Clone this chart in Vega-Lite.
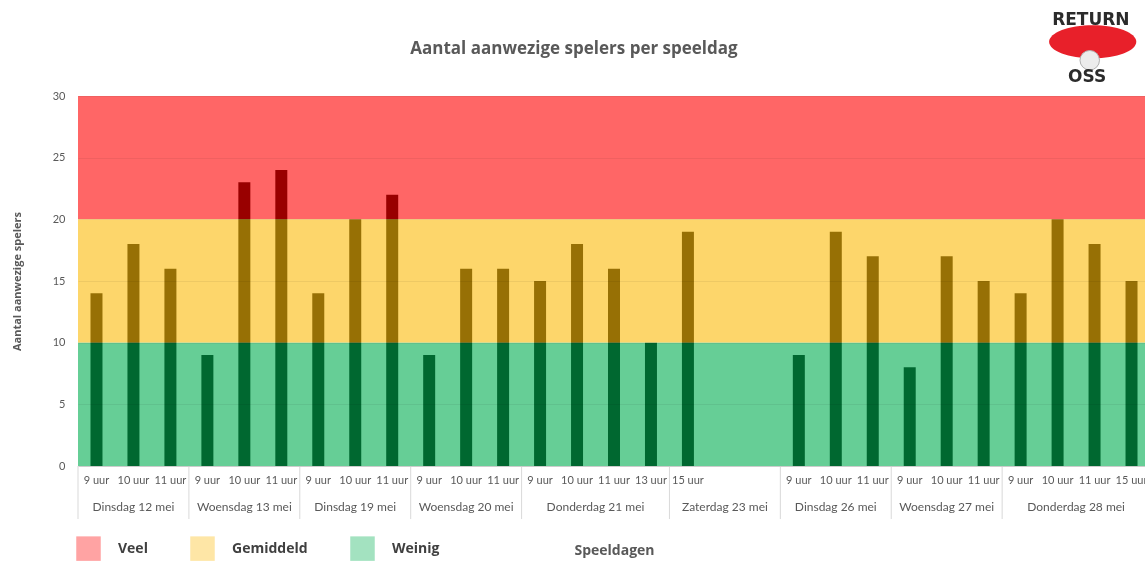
{
  "$schema": "https://vega.github.io/schema/vega-lite/v6.json",
  "width": 1072,
  "height": 370,
  "autosize": {"type": "none"},
  "padding": {"left": 78, "top": 96, "right": 0, "bottom": 95},
  "background": "white",
  "title": {
    "text": "Aantal aanwezige spelers per speeldag",
    "fontSize": 17,
    "fontWeight": "bold",
    "color": "#595959",
    "font": "Open Sans",
    "anchor": "middle",
    "dx": -40,
    "offset": -47
  },
  "config": {"view": {"stroke": null}, "font": "Lato"},
  "datasets": {
    "banden": [
      {"categorie": "Veel", "van": 20, "tot": 30},
      {"categorie": "Gemiddeld", "van": 10, "tot": 20},
      {"categorie": "Weinig", "van": 0, "tot": 10}
    ],
    "logo": [
      {"tekst": "RETURN", "x": 26.9, "y": 36.2},
      {"tekst": "OSS", "x": 26.8, "y": 31.55}
    ],
    "spelers": [
      {"idx": 0, "dag": "Dinsdag 12 mei", "tijd": "9 uur", "spelers": 14},
      {"idx": 1, "dag": "Dinsdag 12 mei", "tijd": "10 uur", "spelers": 18},
      {"idx": 2, "dag": "Dinsdag 12 mei", "tijd": "11 uur", "spelers": 16},
      {"idx": 3, "dag": "Woensdag 13 mei", "tijd": "9 uur", "spelers": 9},
      {"idx": 4, "dag": "Woensdag 13 mei", "tijd": "10 uur", "spelers": 23},
      {"idx": 5, "dag": "Woensdag 13 mei", "tijd": "11 uur", "spelers": 24},
      {"idx": 6, "dag": "Dinsdag 19 mei", "tijd": "9 uur", "spelers": 14},
      {"idx": 7, "dag": "Dinsdag 19 mei", "tijd": "10 uur", "spelers": 20},
      {"idx": 8, "dag": "Dinsdag 19 mei", "tijd": "11 uur", "spelers": 22},
      {"idx": 9, "dag": "Woensdag 20 mei", "tijd": "9 uur", "spelers": 9},
      {"idx": 10, "dag": "Woensdag 20 mei", "tijd": "10 uur", "spelers": 16},
      {"idx": 11, "dag": "Woensdag 20 mei", "tijd": "11 uur", "spelers": 16},
      {"idx": 12, "dag": "Donderdag 21 mei", "tijd": "9 uur", "spelers": 15},
      {"idx": 13, "dag": "Donderdag 21 mei", "tijd": "10 uur", "spelers": 18},
      {"idx": 14, "dag": "Donderdag 21 mei", "tijd": "11 uur", "spelers": 16},
      {"idx": 15, "dag": "Donderdag 21 mei", "tijd": "13 uur", "spelers": 10},
      {"idx": 16, "dag": "Zaterdag 23 mei", "tijd": "15 uur", "spelers": 19},
      {"idx": 17, "dag": "Zaterdag 23 mei", "tijd": "", "spelers": null},
      {"idx": 18, "dag": "Zaterdag 23 mei", "tijd": "", "spelers": null},
      {"idx": 19, "dag": "Dinsdag 26 mei", "tijd": "9 uur", "spelers": 9},
      {"idx": 20, "dag": "Dinsdag 26 mei", "tijd": "10 uur", "spelers": 19},
      {"idx": 21, "dag": "Dinsdag 26 mei", "tijd": "11 uur", "spelers": 17},
      {"idx": 22, "dag": "Woensdag 27 mei", "tijd": "9 uur", "spelers": 8},
      {"idx": 23, "dag": "Woensdag 27 mei", "tijd": "10 uur", "spelers": 17},
      {"idx": 24, "dag": "Woensdag 27 mei", "tijd": "11 uur", "spelers": 15},
      {"idx": 25, "dag": "Donderdag 28 mei", "tijd": "9 uur", "spelers": 14},
      {"idx": 26, "dag": "Donderdag 28 mei", "tijd": "10 uur", "spelers": 20},
      {"idx": 27, "dag": "Donderdag 28 mei", "tijd": "11 uur", "spelers": 18},
      {"idx": 28, "dag": "Donderdag 28 mei", "tijd": "15 uur", "spelers": 15}
    ]
  },
  "layer": [
    {
      "data": {"name": "banden"},
      "mark": {"type": "rect"},
      "encoding": {
        "x": {"datum": -0.5, "type": "quantitative"},
        "x2": {"datum": 28.5},
        "y": {
          "field": "van",
          "type": "quantitative",
          "scale": {"domain": [0, 30], "nice": false, "padding": 0},
          "axis": {
            "title": "Aantal aanwezige spelers",
            "titleFont": "Open Sans",
            "titleFontSize": 11,
            "titleFontWeight": "bold",
            "titleColor": "#595959",
            "titlePadding": 30,
            "labelFontSize": 11,
            "labelColor": "#595959",
            "labelPadding": 13,
            "ticks": false,
            "domain": false,
            "grid": true,
            "gridColor": "#000000",
            "gridOpacity": 0.06,
            "values": [0, 5, 10, 15, 20, 25, 30],
            "zindex": 1
          }
        },
        "y2": {"field": "tot"},
        "color": {
          "field": "categorie",
          "type": "nominal",
          "scale": {
            "domain": ["Veel", "Gemiddeld", "Weinig"],
            "range": ["#FF6666", "#FDD66B", "#66CE96"]
          },
          "legend": {
            "title": null,
            "orient": "none",
            "direction": "horizontal",
            "legendX": -2,
            "legendY": 440,
            "symbolType": "square",
            "symbolSize": 600,
            "symbolOpacity": 0.6,
            "symbolStrokeWidth": 0,
            "labelFont": "Open Sans",
            "labelFontSize": 14,
            "labelFontWeight": "bold",
            "labelColor": "#404040",
            "labelOffset": 17,
            "columnPadding": 42
          }
        }
      }
    },
    {
      "data": {"name": "spelers"},
      "mark": {"type": "bar", "width": 12, "color": "#666666", "blend": "difference"},
      "encoding": {
        "x": {
          "field": "idx",
          "type": "quantitative",
          "scale": {"domain": [-0.5, 28.5], "nice": false, "zero": false, "padding": 0},
          "axis": {
            "labels": false,
            "ticks": false,
            "grid": false,
            "domainColor": "#d9d9d9",
            "title": "Speeldagen",
            "titleFont": "Open Sans",
            "titleFontSize": 14,
            "titleFontWeight": "bold",
            "titleColor": "#595959",
            "titlePadding": 77
          }
        },
        "y": {"field": "spelers", "type": "quantitative"}
      }
    },
    {
      "data": {"name": "spelers"},
      "mark": {"type": "text", "fontSize": 11, "color": "#595959", "baseline": "middle"},
      "encoding": {
        "x": {"field": "idx", "type": "quantitative"},
        "y": {"datum": -1.22, "type": "quantitative"},
        "text": {"field": "tijd"}
      }
    },
    {
      "data": {"name": "spelers"},
      "mark": {"type": "text", "fontSize": 12, "color": "#595959", "baseline": "middle"},
      "encoding": {
        "x": {"aggregate": "mean", "field": "idx", "type": "quantitative"},
        "y": {"datum": -3.32, "type": "quantitative"},
        "text": {"field": "dag"}
      }
    },
    {
      "data": {"name": "spelers"},
      "mark": {"type": "rule", "color": "#d9d9d9", "xOffset": -18.48},
      "encoding": {
        "x": {"aggregate": "min", "field": "idx", "type": "quantitative"},
        "y": {"datum": 0, "type": "quantitative"},
        "y2": {"datum": -4.3},
        "detail": {"field": "dag"}
      }
    },
    {
      "data": {"values": [{"x": 26.95, "y": 34.4}]},
      "mark": {
        "type": "point",
        "filled": true,
        "color": "#E8202A",
        "opacity": 1,
        "size": 7600,
        "shape": "M -1 0 A 1 0.38 0 1 0 1 0 A 1 0.38 0 1 0 -1 0 Z"
      },
      "encoding": {
        "x": {"field": "x", "type": "quantitative"},
        "y": {"field": "y", "type": "quantitative"}
      }
    },
    {
      "data": {"values": [{"x": 26.87, "y": 32.9}]},
      "mark": {
        "type": "point",
        "filled": true,
        "color": "#ececec",
        "stroke": "#b0b0b0",
        "strokeWidth": 1,
        "opacity": 1,
        "size": 380,
        "shape": "circle"
      },
      "encoding": {
        "x": {"field": "x", "type": "quantitative"},
        "y": {"field": "y", "type": "quantitative"}
      }
    },
    {
      "data": {"name": "logo"},
      "mark": {"type": "text", "fontSize": 17, "fontWeight": "bold", "color": "#2b2b2b", "baseline": "middle", "font": "DejaVu Sans"},
      "encoding": {
        "x": {"field": "x", "type": "quantitative"},
        "y": {"field": "y", "type": "quantitative"},
        "text": {"field": "tekst"}
      }
    }
  ]
}
